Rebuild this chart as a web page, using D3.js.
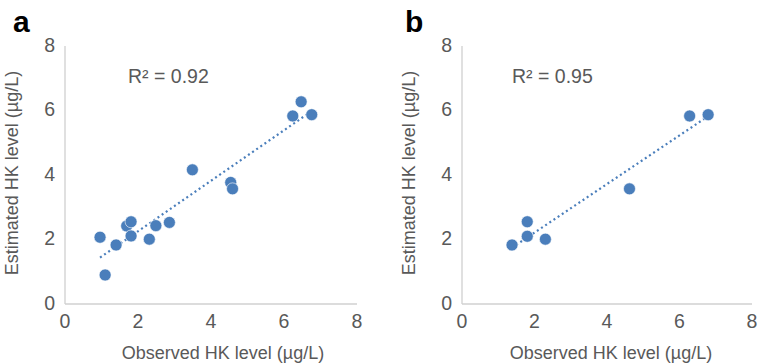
<!DOCTYPE html>
<html>
<head>
<meta charset="utf-8">
<script src="https://cdn.jsdelivr.net/npm/d3@7"></script>
<style>
  body { margin: 0; background: #fff; }
  text { font-family: "Liberation Sans", Arial, sans-serif; }
</style>
</head>
<body>
<script>
// panel a: observed vs estimated
const obsA = [0.96, 1.10, 1.40, 1.69, 1.81, 1.81, 2.31, 2.49, 2.86, 3.49, 4.54, 4.59, 6.24, 6.47, 6.76];
const estA = [2.07, 0.90, 1.83, 2.42, 2.55, 2.11, 2.01, 2.43, 2.53, 4.16, 3.77, 3.57, 5.83, 6.27, 5.87];
// panel b
const obsB = [1.38, 1.80, 1.80, 2.30, 4.62, 6.28, 6.79];
const estB = [1.83, 2.55, 2.10, 2.01, 3.57, 5.83, 5.87];
const ticks = [0, 2, 4, 6, 8];
const r2Labels = ['R² = 0.92', 'R² = 0.95'];
const panelLabels = ['a', 'b'];

const W = 767, H = 363;
const svg = d3.select('body').append('svg').attr('width', W).attr('height', H);

const blue = '#4a7ebb';
const grey = '#595959';

function panel(ox, xs, ys, r2, label, plotW, opt) {
    const g = svg.append('g').attr('transform', `translate(${ox},0)`);
    const x = d3.scaleLinear().domain([0, 8]).range([0, plotW]);
    const y = d3.scaleLinear().domain([0, 8]).range([304, 46]);

    // axis lines
    g.append('line').attr('x1', 0).attr('x2', 0).attr('y1', y(8)).attr('y2', y(0))
        .attr('stroke', '#d0d0d0').attr('stroke-width', 1.3);
    g.append('line').attr('x1', 0).attr('x2', x(8)).attr('y1', y(0)).attr('y2', y(0))
        .attr('stroke', '#d0d0d0').attr('stroke-width', 1.3);

    g.selectAll('.yt').data(ticks).enter().append('text')
        .attr('x', -10).attr('y', d => y(d) - 1).attr('dy', '0.35em')
        .attr('text-anchor', 'end').attr('font-size', 19.5).attr('fill', grey)
        .text(d => d);
    g.selectAll('.xt').data(ticks).enter().append('text')
        .attr('x', d => x(d)).attr('y', 328)
        .attr('text-anchor', 'middle').attr('font-size', 19.5).attr('fill', grey)
        .text(d => d);

    // linear trendline from min x to max x
    const pts = xs.map((v, i) => [v, ys[i]]);
    const mx = d3.mean(xs), my = d3.mean(ys);
    const slope = d3.sum(pts, p => (p[0] - mx) * (p[1] - my)) / d3.sum(pts, p => (p[0] - mx) ** 2);
    const icpt = my - slope * mx;
    const [x0, x1] = d3.extent(xs);
    g.append('line')
        .attr('x1', x(x0)).attr('y1', y(icpt + slope * x0))
        .attr('x2', x(x1)).attr('y2', y(icpt + slope * x1))
        .attr('stroke', blue).attr('stroke-width', 2.2)
        .attr('stroke-dasharray', '2,3');

    g.selectAll('circle').data(pts).enter().append('circle')
        .attr('cx', d => x(d[0])).attr('cy', d => y(d[1])).attr('r', 6)
        .attr('fill', blue).attr('stroke', '#fff').attr('stroke-width', 0.6);

    g.append('text').attr('x', opt.r2X).attr('y', 83)
        .attr('font-size', 19.5).attr('fill', grey).text(r2);

    g.append('text').attr('transform', `translate(${-47},173) rotate(-90)`)
        .attr('text-anchor', 'middle').attr('font-size', 18).attr('fill', grey)
        .text('Estimated HK level (µg/L)');
    g.append('text').attr('x', x(4) + opt.titleShift).attr('y', 359)
        .attr('text-anchor', 'middle').attr('font-size', 18).attr('fill', grey)
        .text('Observed HK level (µg/L)');

    g.append('text').attr('x', opt.labelX).attr('y', 32)
        .attr('font-size', 30).attr('font-weight', 'bold').attr('fill', '#000')
        .text(label);
}

panel(65, obsA, estA, r2Labels[0], panelLabels[0], 292, {titleShift: 12, labelX: -52, r2X: 63});
panel(462, obsB, estB, r2Labels[1], panelLabels[1], 290, {titleShift: 4, labelX: -57, r2X: 50});
</script>
</body>
</html>
